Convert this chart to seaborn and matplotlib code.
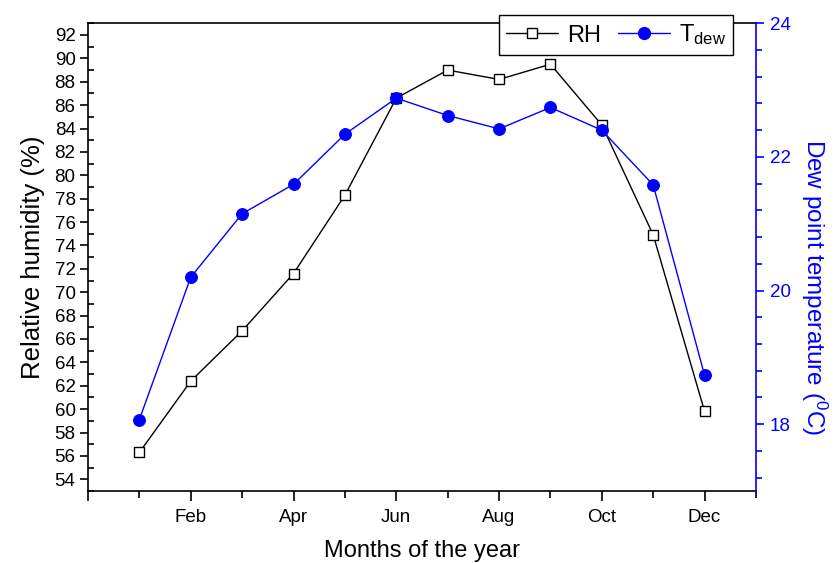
import matplotlib
matplotlib.use("Agg")
import matplotlib.pyplot as plt
import seaborn as sns
import pandas as pd
from matplotlib.ticker import MultipleLocator, FixedLocator
from matplotlib.lines import Line2D

months = [1, 2, 3, 4, 5, 6, 7, 8, 9, 10, 11, 12]
rh = [56.3, 62.4, 66.7, 71.6, 78.3, 86.6, 89.0, 88.2, 89.5, 84.3, 74.9, 59.8]
tdew = [18.07, 20.20, 21.15, 21.59, 22.34, 22.88, 22.62, 22.42, 22.74, 22.40, 21.58, 18.73]
xtick_pos = [0, 2, 4, 6, 8, 10, 12]
xtick_labels = ["", "Feb", "Apr", "Jun", "Aug", "Oct", "Dec"]

sns.set_style("ticks")
plt.rcParams["font.family"] = ["Liberation Sans", "DejaVu Sans"]
plt.rcParams["mathtext.fontset"] = "custom"
plt.rcParams["mathtext.rm"] = "Liberation Sans"
plt.rcParams["mathtext.it"] = "Liberation Sans"
plt.rcParams["mathtext.default"] = "rm"
plt.rcParams["text.color"] = "black"
plt.rcParams["axes.labelcolor"] = "black"
plt.rcParams["xtick.color"] = "black"
plt.rcParams["ytick.color"] = "black"

df = pd.DataFrame({"month": months, "rh": rh, "tdew": tdew})

fig = plt.figure(figsize=(8.38, 5.63), dpi=100)
ax = fig.add_axes([88/838, 1-491/563, (756-88)/838, (491-23.3)/563])
ax2 = ax.twinx()

sns.lineplot(data=df, x="month", y="rh", ax=ax, color="black", lw=1.0,
             marker="s", markersize=7, markerfacecolor="white",
             markeredgecolor="black", markeredgewidth=1.0)
sns.lineplot(data=df, x="month", y="tdew", ax=ax2, color="blue", lw=1.0,
             marker="o", markersize=8.5, markerfacecolor="blue",
             markeredgecolor="blue")

ax.set_xlim(0, 13)
ax.set_ylim(53, 93)
ax2.set_ylim(17, 24)

ax.xaxis.set_major_locator(FixedLocator(xtick_pos))
ax.set_xticklabels(xtick_labels)
ax.xaxis.set_minor_locator(MultipleLocator(1))
ax.yaxis.set_major_locator(MultipleLocator(2))
ax.yaxis.set_minor_locator(MultipleLocator(1))
ax2.yaxis.set_major_locator(MultipleLocator(2))
ax2.yaxis.set_minor_locator(MultipleLocator(0.4))

ax.tick_params(axis="x", which="major", direction="out", length=7, width=1.2,
               labelsize=13.5, pad=6, top=False, colors="black")
ax.tick_params(axis="x", which="minor", direction="out", length=5, width=1.2, top=False)
ax.tick_params(axis="y", which="major", direction="out", length=6, width=1.2,
               labelsize=13.5, pad=3, colors="black")
ax.tick_params(axis="y", which="minor", direction="in", length=4, width=1.2)
ax2.tick_params(axis="y", which="major", direction="out", length=6, width=1.2,
                labelsize=13.5, colors="blue", pad=4)
ax2.tick_params(axis="y", which="minor", direction="out", length=4, width=1.2,
                colors="blue")

for s in ["left", "bottom", "top"]:
    ax.spines[s].set_visible(True)
    ax.spines[s].set_linewidth(1.2)
    ax.spines[s].set_color("black")
for s in ["left", "bottom", "top"]:
    ax2.spines[s].set_visible(False)
ax.spines["right"].set_visible(False)
ax2.spines["right"].set_visible(True)
ax2.spines["right"].set_color("blue")
ax2.spines["right"].set_linewidth(1.2)

ax.set_xlabel("Months of the year", fontsize=17, labelpad=10, color="black")
ax.set_ylabel("Relative humidity (%)", fontsize=18.5, labelpad=7, color="black")
ax2.set_ylabel("Dew point temperature ($^{0}$C)", fontsize=17.5, color="blue",
               rotation=270)
ax2.yaxis.set_label_coords(1.11, 0.435)

handles = [
    Line2D([], [], color="black", lw=1.0, marker="s", markersize=7,
           markerfacecolor="white", markeredgecolor="black"),
    Line2D([], [], color="blue", lw=1.0, marker="o", markersize=8.5,
           markerfacecolor="blue", markeredgecolor="blue"),
]
leg = fig.legend(handles, ["RH", "T$_{\\mathrm{dew}}$"], loc="center",
                 bbox_to_anchor=(616/838, 1-35/563), ncol=2, fontsize=17,
                 frameon=True, fancybox=False, framealpha=1, edgecolor="black",
                 handlelength=2.2, columnspacing=0.7, handletextpad=0.4,
                 borderpad=0.3)
leg.get_frame().set_linewidth(1.0)
for t in leg.get_texts():
    t.set_color("black")

fig.savefig("out.png", dpi=100)
